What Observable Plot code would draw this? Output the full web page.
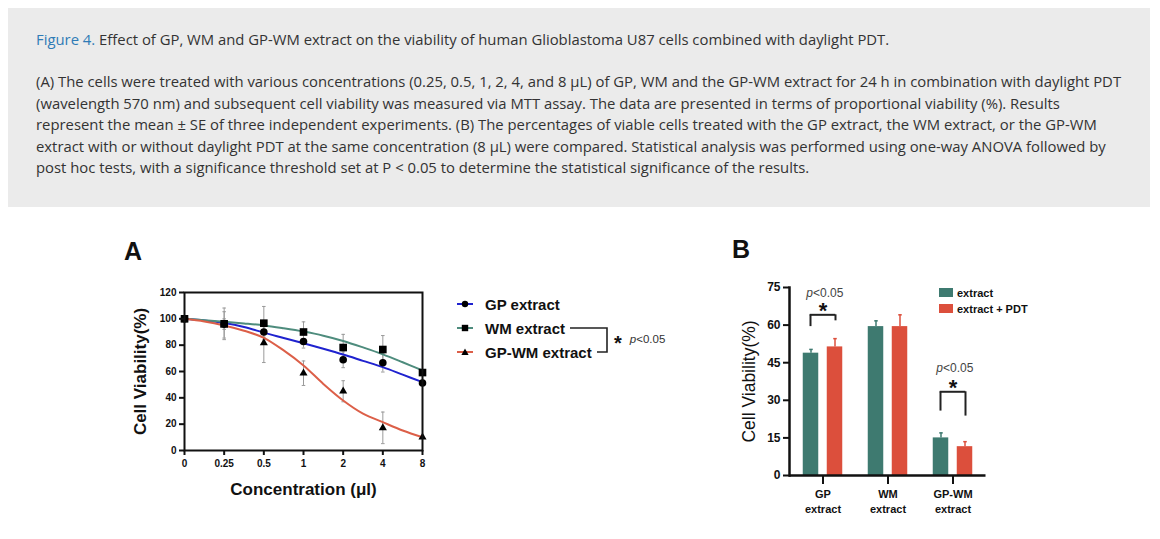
<!DOCTYPE html>
<html>
<head>
<meta charset="utf-8">
<script src="https://cdn.jsdelivr.net/npm/d3@7"></script>
<script src="https://cdn.jsdelivr.net/npm/@observablehq/plot@0.6"></script>
<style>
  html, body { margin: 0; padding: 0; background: #ffffff; }
  #root { position: relative; width: 1160px; height: 539px; overflow: hidden; font-family: "Liberation Sans", Arial, sans-serif; }
  #capbox { position: absolute; left: 8px; top: 8px; width: 1142px; height: 199px; background: #ebebeb; }
  .cap { position: absolute; left: 28px; font-family: "Open Sans", sans-serif; font-size: 14.85px; line-height: 21.5px; color: #333; white-space: nowrap; }
  .cap .fig { color: #2f7bb6; }
  .panel { position: absolute; font-family: "Liberation Sans", Arial, sans-serif; font-weight: bold; font-size: 25px; color: #111; }
  .abs { position: absolute; }
  .leg { position: absolute; font-family: "Liberation Sans", Arial, sans-serif; font-weight: bold; color: #111; white-space: nowrap; display: flex; align-items: center; }
</style>
</head>
<body>
<div id="root">
  <div id="capbox">
    <div class="cap" style="top:21px"><span class="fig">Figure 4.</span> Effect of GP, WM and GP-WM extract on the viability of human Glioblastoma U87 cells combined with daylight PDT.</div>
    <div class="cap" style="top:63px">(A) The cells were treated with various concentrations (0.25, 0.5, 1, 2, 4, and 8 μL) of GP, WM and the GP-WM extract for 24 h in combination with daylight PDT<br>(wavelength 570 nm) and subsequent cell viability was measured via MTT assay. The data are presented in terms of proportional viability (%). Results<br>represent the mean ± SE of three independent experiments. (B) The percentages of viable cells treated with the GP extract, the WM extract, or the GP-WM<br>extract with or without daylight PDT at the same concentration (8 μL) were compared. Statistical analysis was performed using one-way ANOVA followed by<br>post hoc tests, with a significance threshold set at P &lt; 0.05 to determine the statistical significance of the results.</div>
  </div>
  <div class="panel" style="left:124px; top:237px">A</div>
  <div class="panel" style="left:732px; top:235px">B</div>
  <div id="chartA" class="abs" style="left:120px; top:270px"></div>
  <div id="legendA"></div>
  <div id="chartB" class="abs" style="left:730px; top:260px"></div>
  <div id="legendB"></div>
</div>
<script>
// ---------- Panel A data ----------
const concLabels = ["0", "0.25", "0.5", "1", "2", "4", "8"];
const seriesNames = ["GP extract", "WM extract", "GP-WM extract"];
const gpMean   = [100, 96.0, 90.0, 82.8, 68.9, 66.6, 51.3];
const gpSE     = [0, 4, 4, 5, 6, 7, 2];
const wmMean   = [100, 96.2, 96.7, 90.0, 78.2, 76.7, 59.2];
const wmSE     = [0, 12, 12.7, 7.7, 10, 10.6, 2];
const gpwmMean = [100, 95.4, 81.8, 58.7, 45.0, 17.2, 10.1];
const gpwmSE   = [0, 10, 15, 9.3, 8, 12, 1];
// fitted curves at half-step positions on the concentration axis
const fitPos   = [0, 0.5, 1, 1.5, 2, 2.5, 3, 3.5, 4, 4.5, 5, 5.5, 6];
const gpFit    = [100, 98.7, 96.8, 93.8, 89.5, 85.5, 81.5, 77.3, 72.9, 68.1, 63.3, 57.6, 51.9];
const wmFit    = [100, 99.0, 97.8, 96.5, 95.0, 92.8, 90.3, 87.2, 83.2, 78.3, 73.0, 67.0, 60.8];
const gpwmFit  = [100, 98.0, 95.0, 91.0, 85.6, 76.0, 64.6, 50.6, 38.0, 28.0, 21.5, 15.2, 10.1];

// ---------- Panel B data ----------
const groupsB = ["GP extract", "WM extract", "GP-WM extract"];
const conditionsB = ["extract", "extract + PDT"];
const extractMean = [48.8, 59.4, 15.0];
const extractSE   = [1.5, 2.3, 2.0];
const pdtMean     = [51.3, 59.4, 11.5];
const pdtSE       = [3.3, 4.7, 2.0];
// significance brackets (values in % units)
const sigGroups      = ["GP extract", "GP-WM extract"];
const sigTop         = [64.1, 33.4];
const sigLeftBottom  = [59.4, 25.7];
const sigRightBottom = [61.7, 23.7];
const sigStarY       = [66.9, 36.1];
const sigLabelY      = [72.9, 42.9];
const sigLabel       = "<0.05";

// ---------- colours ----------
const lineColors = ["#1f22cf", "#4e8c7d", "#dc5f48"];
const teal = "#3e7a70";
const red = "#dc4f3c";
const symbols = ["circle", "square", "triangle"];
const symbolR = [3.8, 4.3, 3.0];

// horizontal-line symbol for error-bar caps
const hline = { draw(ctx, size) { const w = Math.sqrt(size) / 2; ctx.moveTo(-w, 0); ctx.lineTo(w, 0); } };

// ---------- build Panel A ----------
const meansA = [gpMean, wmMean, gpwmMean], seA = [gpSE, wmSE, gpwmSE], fitsA = [gpFit, wmFit, gpwmFit];
const rowsA = [];
seriesNames.forEach((s, k) => meansA[k].forEach((m, i) => rowsA.push({series: s, i, mean: m, se: seA[k][i]})));
const fitRows = [];
seriesNames.forEach((s, k) => fitsA[k].forEach((v, j) => fitRows.push({series: s, pos: fitPos[j], v})));
const errA = rowsA.filter(d => d.se > 0);

const chartA = Plot.plot({
  width: 312, height: 240,
  marginLeft: 64, marginRight: 10, marginTop: 22, marginBottom: 60,
  style: {fontFamily: "Liberation Sans, Arial, sans-serif", color: "#111", background: "transparent", overflow: "visible"},
  x: {domain: [0, 6], axis: null},
  y: {domain: [0, 120], axis: null},
  color: {domain: seriesNames, range: lineColors},
  symbol: {domain: seriesNames, range: symbols},
  marks: [
    Plot.ruleX(errA, {x: "i", y1: d => d.mean - d.se, y2: d => d.mean + d.se, stroke: "#9a9a9a", strokeWidth: 1}),
    Plot.dot(errA, {x: "i", y: d => d.mean + d.se, symbol: hline, r: 2, fill: "none", stroke: "#9a9a9a", strokeWidth: 1}),
    Plot.dot(errA, {x: "i", y: d => d.mean - d.se, symbol: hline, r: 2, fill: "none", stroke: "#9a9a9a", strokeWidth: 1}),
    Plot.line(fitRows, {x: "pos", y: "v", z: "series", stroke: "series", curve: "catmull-rom", strokeWidth: 2}),
    ...seriesNames.map((s, k) => Plot.dot(rowsA.filter(d => d.series === s), {x: "i", y: "mean", symbol: "series", fill: "#000", stroke: "none", r: symbolR[k]})),
    Plot.axisX({ticks: d3.range(7), tickFormat: i => concLabels[i], tickSize: 5, tickPadding: 4, strokeWidth: 2, fontSize: 10, fontWeight: "bold", label: null}),
    Plot.axisY({ticks: d3.range(0, 121, 20), tickSize: 5, tickPadding: 3, strokeWidth: 2, fontSize: 10, fontWeight: "bold", label: null}),
    Plot.frame({stroke: "#111", strokeWidth: 2}),
    Plot.text(["Cell Viability(%)"], {frameAnchor: "left", textAnchor: "middle", rotate: -90, dx: -44, fontSize: 17, fontWeight: "bold"}),
    Plot.text(["Concentration (μl)"], {frameAnchor: "bottom", textAnchor: "middle", dy: 44, fontSize: 17, fontWeight: "bold"})
  ]
});
document.getElementById("chartA").appendChild(chartA);

// ---------- Legend A ----------
const legA = document.getElementById("legendA");
const legTops = [304, 328, 352];
seriesNames.forEach((s, k) => {
  const div = document.createElement("div");
  div.className = "leg";
  div.style.left = "456px";
  div.style.top = (legTops[k] - 10) + "px";
  div.style.height = "20px";
  div.style.fontSize = "15px";
  const mk = {circle: '<circle cx="9" cy="6" r="3.2" fill="#000"/>',
              square: '<rect x="5.8" y="2.8" width="6.4" height="6.4" fill="#000"/>',
              triangle: '<path d="M9,2.6 L12.6,9 L5.4,9 Z" fill="#000"/>'}[symbols[k]];
  div.innerHTML = `<svg width="18" height="12" style="margin-right:11px"><line x1="1" x2="17" y1="6" y2="6" stroke="${lineColors[k]}" stroke-width="2"/>${mk}</svg><span>${s}</span>`;
  legA.appendChild(div);
});
const brA = document.createElement("div");
brA.className = "abs";
brA.style.left = "560px"; brA.style.top = "318px";
brA.innerHTML = `<svg width="120" height="44" style="overflow:visible"><path d="M10,10 H47 V34 H37" fill="none" stroke="#222" stroke-width="1.6"/></svg>`;
legA.appendChild(brA);
const starA = document.createElement("div");
starA.className = "leg";
starA.style.left = "614px"; starA.style.top = "330px"; starA.style.height = "20px";
starA.innerHTML = `<span style="font-size:20px; margin-top:6px">*</span><span style="font-weight:normal; font-size:11.5px; margin-left:8px; color:#333; margin-top:-3px"><i>p</i>&lt;0.05</span>`;
legA.appendChild(starA);

// ---------- build Panel B ----------
const rowsB = [];
groupsB.forEach((g, i) => {
  rowsB.push({group: g, condition: conditionsB[0], mean: extractMean[i], se: extractSE[i]});
  rowsB.push({group: g, condition: conditionsB[1], mean: pdtMean[i], se: pdtSE[i]});
});
const extRows = rowsB.filter(d => d.condition === conditionsB[0]);
const pdtRows = rowsB.filter(d => d.condition === conditionsB[1]);
const sigRows = sigGroups.map((g, k) => ({group: g, top: sigTop[k], lb: sigLeftBottom[k], rb: sigRightBottom[k], star: sigStarY[k], lab: sigLabelY[k]}));

const chartB = Plot.plot({
  width: 266, height: 260,
  marginLeft: 59, marginRight: 10.5, marginTop: 27, marginBottom: 45,
  style: {fontFamily: "Liberation Sans, Arial, sans-serif", color: "#111", background: "transparent", overflow: "visible"},
  x: {domain: groupsB, padding: 0, axis: null},
  y: {domain: [0, 75], axis: null},
  marks: [
    Plot.barY(extRows, {x: "group", y: "mean", fill: teal, insetLeft: 12.75, insetRight: 36.75}),
    Plot.barY(pdtRows, {x: "group", y: "mean", fill: red, insetLeft: 36.75, insetRight: 12.75}),
    Plot.ruleX(extRows, {x: "group", y1: "mean", y2: d => d.mean + d.se, dx: -12, stroke: teal, strokeWidth: 1.5}),
    Plot.dot(extRows, {x: "group", y: d => d.mean + d.se, dx: -12, symbol: hline, r: 2, fill: "none", stroke: teal, strokeWidth: 1.5}),
    Plot.ruleX(pdtRows, {x: "group", y1: "mean", y2: d => d.mean + d.se, dx: 12, stroke: red, strokeWidth: 1.5}),
    Plot.dot(pdtRows, {x: "group", y: d => d.mean + d.se, dx: 12, symbol: hline, r: 2, fill: "none", stroke: red, strokeWidth: 1.5}),
    Plot.ruleX(sigRows, {x: "group", y1: "lb", y2: "top", dx: -12.5, stroke: "#222", strokeWidth: 2}),
    Plot.ruleX(sigRows, {x: "group", y1: "rb", y2: "top", dx: 12.5, stroke: "#222", strokeWidth: 2}),
    Plot.tickY(sigRows, {x: "group", y: "top", insetLeft: 19.75, insetRight: 19.75, stroke: "#222", strokeWidth: 2}),
    Plot.text(sigRows, {x: "group", y: "star", text: () => "*", fontSize: 22, fontWeight: "bold", dy: 3, fill: "#111"}),
    Plot.text(sigRows, {x: "group", y: "lab", text: () => "p", fontStyle: "italic", textAnchor: "end", dx: -10, fontSize: 12, fill: "#444"}),
    Plot.text(sigRows, {x: "group", y: "lab", text: () => sigLabel, textAnchor: "start", dx: -10, fontSize: 12, fill: "#444"}),
    Plot.axisX({tickSize: 9, tickPadding: 3, strokeWidth: 2, fontSize: 11, lineHeight: 1.35, fontWeight: "bold", tickFormat: g => g.replace(" ", "\n"), label: null}),
    Plot.axisY({ticks: d3.range(0, 76, 15), tickSize: 6, tickPadding: 3, strokeWidth: 2, fontSize: 12, fontWeight: "bold", label: null}),
    Plot.ruleY([0], {stroke: "#111", strokeWidth: 2.5}),
    Plot.frame({anchor: "left", stroke: "#111", strokeWidth: 2.5}),
    Plot.text(["Cell Viability(%)"], {frameAnchor: "left", textAnchor: "middle", rotate: -90, dx: -40, fontSize: 17.5, fontWeight: "normal"})
  ]
});
document.getElementById("chartB").appendChild(chartB);

// ---------- Legend B ----------
const legB = document.getElementById("legendB");
const colB = [teal, red];
conditionsB.forEach((c, k) => {
  const div = document.createElement("div");
  div.className = "leg";
  div.style.left = "939px";
  div.style.top = (286 + k * 16) + "px";
  div.style.height = "13px";
  div.style.fontSize = "11px";
  div.innerHTML = `<span style="display:inline-block;width:14px;height:9px;background:${colB[k]};margin-right:4px"></span><span>${c}</span>`;
  legB.appendChild(div);
});
</script>
</body>
</html>
